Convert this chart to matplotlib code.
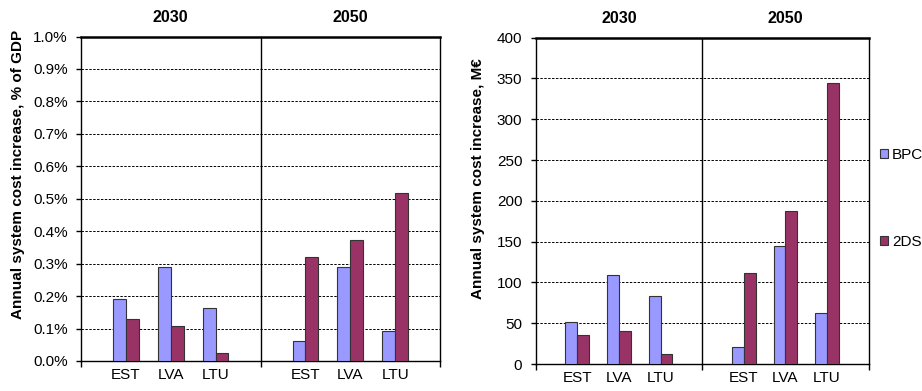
import matplotlib
matplotlib.use("Agg")
import matplotlib.pyplot as plt
from matplotlib.patches import Patch
from matplotlib.ticker import FuncFormatter

plt.rcParams["font.family"] = ["Liberation Sans", "DejaVu Sans"]

YEARS = ["2030", "2050"]
COUNTRIES = ["EST", "LVA", "LTU"]
SERIES = ["BPC", "2DS"]
COLORS = {"BPC": "#9999FF", "2DS": "#993366"}

# share of GDP, % (2030 then 2050, EST/LVA/LTU)
GDP_BPC = [0.19, 0.29, 0.163, 0.063, 0.289, 0.092]
GDP_2DS = [0.13, 0.107, 0.024, 0.32, 0.372, 0.517]

# million EUR
MEUR_BPC = [52, 109, 83, 21, 144.5, 62]
MEUR_2DS = [35.5, 40, 12, 111, 188, 344]

W, H = 922, 391
BAR_W = 0.285
FS = 11


def px_axes(fig, left, right, top, bottom):
    return fig.add_axes([left / W, (H - bottom) / H, (right - left) / W, (bottom - top) / H])


def panel(ax, bpc, tds, ymax, ystep, fmt, ylabel, label_x, label_y):
    xs = []
    for g in range(len(YEARS)):
        for i in range(len(COUNTRIES)):
            xs.append(g * 4 + i + 1)
    ax.bar([x - BAR_W / 2 for x in xs], bpc, width=BAR_W, color=COLORS["BPC"],
           edgecolor="#333333", linewidth=0.8, zorder=3)
    ax.bar([x + BAR_W / 2 for x in xs], tds, width=BAR_W, color=COLORS["2DS"],
           edgecolor="#333333", linewidth=0.8, zorder=3)
    ax.set_xlim(0, 8)
    ax.set_ylim(0, ymax)
    yt = [i * ystep for i in range(int(round(ymax / ystep)) + 1)]
    ax.set_yticks(yt)
    ax.yaxis.set_major_formatter(FuncFormatter(fmt))
    for y in yt[1:-1]:
        ax.axhline(y, color="black", lw=0.7, ls=(0, (2.5, 1.5)), zorder=1)
    ax.axvline(4, color="black", lw=1.0, zorder=2)
    ax.set_xticks([0, 4, 8])
    ax.set_xticklabels([])
    ax.set_xticks(xs, minor=True)
    ax.set_xticklabels(COUNTRIES * 2, minor=True)
    ax.tick_params(axis="x", which="major", direction="out", length=4, width=1)
    ax.tick_params(axis="x", which="minor", length=0, pad=5, labelsize=FS)
    ax.tick_params(axis="y", direction="out", length=3.6, width=1, labelsize=FS, pad=6)
    for s in ax.spines.values():
        s.set_linewidth(1.0)
    ax.spines["top"].set_linewidth(1.8)
    for g, yr in enumerate(YEARS):
        ax.text(g * 4 + 2, 1.058, yr, transform=ax.get_xaxis_transform(),
                ha="center", va="center", fontsize=11.5, fontweight="bold")
    ax.set_ylabel(ylabel, fontsize=FS, fontweight="bold")
    ax.yaxis.set_label_coords(label_x, label_y)


fig = plt.figure(figsize=(W / 100, H / 100), dpi=100)

ax1 = px_axes(fig, 81, 440, 36.5, 361)
panel(ax1, GDP_BPC, GDP_2DS, 1.0, 0.1, lambda v, p: f"{v:.1f}%",
      "Annual system cost increase, % of GDP", -0.156, 0.575)

ax2 = px_axes(fig, 535.7, 868.7, 37.7, 364)
panel(ax2, MEUR_BPC, MEUR_2DS, 400, 50, lambda v, p: f"{v:.0f}",
      "Annual system cost increase, M€", -0.152, 0.567)

handles = [Patch(facecolor=COLORS[s], edgecolor="#333333", linewidth=0.8) for s in SERIES]
fig.legend(handles, SERIES, loc="upper left", bbox_to_anchor=(880 / W, 1 - 148 / H),
           frameon=False, fontsize=FS, handlelength=0.55, handleheight=0.55,
           handletextpad=0.25, labelspacing=4.75, borderpad=0, borderaxespad=0)

fig.savefig("out.png", dpi=100)
